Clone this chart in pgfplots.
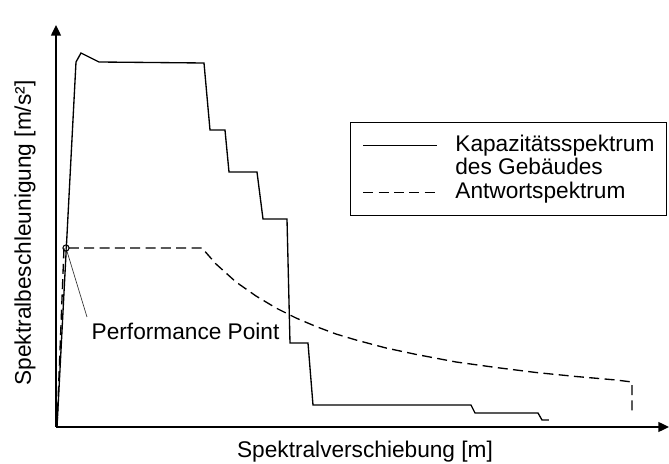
\documentclass[border=0pt]{standalone}
\usepackage{fontspec}
\setmainfont{Liberation Sans}
\usepackage{pgfplots}
\pgfplotsset{compat=1.18}
\usetikzlibrary{arrows.meta}
\newcommand\f{\fontsize{17}{17.6}\selectfont}
\begin{document}
\begin{tikzpicture}
\useasboundingbox (-42pt,-27.75pt) rectangle (459.75pt,320.25pt);
\begin{axis}[
  at={(0,0)}, anchor=origin,
  scale only axis,
  width=459.75pt, height=301.5pt,
  xmin=0, xmax=613, ymin=0, ymax=402,
  axis lines=left,
  axis line style={line width=1pt, -{Triangle[length=8pt,width=7.5pt]}},
  xtick=\empty, ytick=\empty,
  clip=false,
  legend style={
    at={(0.9967,0.7587)}, anchor=north east,
    draw=black, line width=0.8pt, fill=white,
    font=\f, inner xsep=9pt, inner ysep=8.5pt,
    row sep=0pt,
    nodes={inner xsep=0pt, inner ysep=0pt, text height=13pt, text depth=4.6pt, line width=0.8pt},
    /tikz/every odd column/.append style={column sep=13.5pt},
  },
  legend cell align=left,
  legend image code/.code={\draw[#1] (0pt,0pt) -- (55pt,0pt);},
]
\addplot[black, line width=1pt, sharp plot] coordinates {
  (1,0) (20,365) (25,374) (43,365) (148,364) (154,297) (169,297) (173,255)
  (201,255) (207,208) (231,208) (234,84) (252,84) (257,22) (415,22) (419,14)
  (482,14) (486,7) (493,7)
};
\addlegendentry{Kapazitätsspektrum}
\addlegendimage{empty legend}
\addlegendentry{des Gebäudes}
\addplot[black, line width=1pt, dash pattern=on 7.5pt off 4pt, sharp plot] coordinates {
  (1,0) (8,179) (146,179) (160,163) (180,145) (200,131) (220,119) (240,109)
  (260,100.5) (280,93) (300,87) (330,79) (360,72.6) (400,65) (440,59.5)
  (480,54.5) (520,50.5) (560,47) (576,45) (576,12)
};
\addlegendentry{Antwortspektrum}
\addplot[black, only marks, mark=o, mark size=2.3pt, mark options={line width=0.8pt}, forget plot] coordinates {(10,179)};
\draw[black!80, line width=0.5pt] (axis cs:10,179) -- (axis cs:31,110);
\node[font=\f, anchor=base west] at (axis cs:31,87) {Performance Point};
\node[font=\f, anchor=center] at (axis cs:309,-25) {Spektralverschiebung [m]};
\node[font=\f, anchor=center, rotate=90] at (axis cs:-31,194) {Spektralbeschleunigung [m/s²]};
\end{axis}
\end{tikzpicture}
\end{document}
